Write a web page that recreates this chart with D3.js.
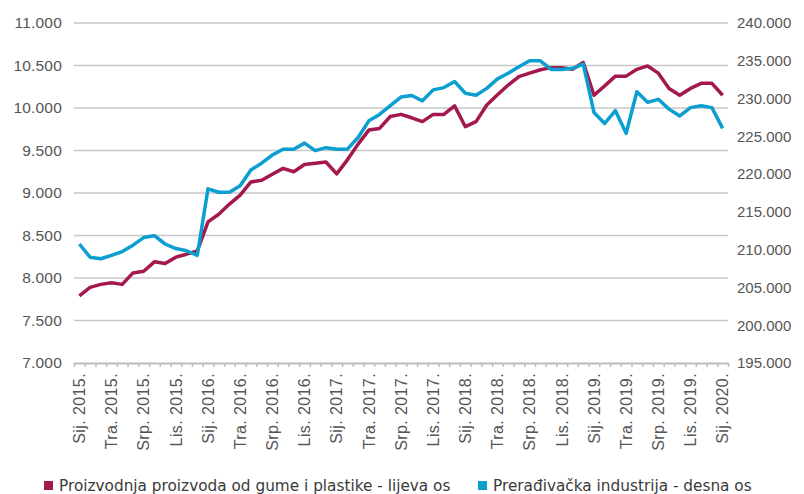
<!DOCTYPE html>
<html>
<head>
<meta charset="utf-8">
<script src="https://cdn.jsdelivr.net/npm/d3@7"></script>
<style>
  html, body { margin: 0; padding: 0; background: #fff; }
  svg { display: block; font-family: "DejaVu Sans", sans-serif; }
</style>
</head>
<body>
<svg id="chart" width="804" height="494"></svg>
<script>
// Monthly index, January 2015 – January 2020
const years = [2015, 2016, 2017, 2018, 2019, 2020];
const monthNames = ["Sij.", "Velj.", "Ožu.", "Tra.", "Svi.", "Lip.", "Srp.", "Kol.", "Ruj.", "Lis.", "Stu.", "Pro."];

// Production of rubber and plastic products (left axis)
const rubberPlastics = [
  7790, 7890, 7925, 7945, 7925, 8060, 8080, 8190, 8170, 8245, 8280, 8320,
  8660, 8750, 8870, 8975, 9130, 9150, 9220, 9290, 9250, 9335, 9350, 9365,
  9225, 9390, 9575, 9740, 9760, 9900, 9925, 9885, 9840, 9925, 9925, 10025,
  9780, 9840, 10035, 10155, 10270, 10370, 10410, 10450, 10475, 10475, 10455, 10535,
  10150, 10260, 10375, 10375, 10455, 10495, 10410, 10230, 10150, 10230, 10290, 10290,
  10150
];

// Manufacturing industry total (right axis)
const manufacturing = [
  210750, 209000, 208800, 209250, 209750, 210600, 211600, 211850, 210750, 210150, 209850, 209250,
  218050, 217600, 217600, 218450, 220550, 221450, 222530, 223300, 223300, 224100, 223100, 223500,
  223300, 223300, 224850, 227050, 227900, 229050, 230200, 230400, 229700, 231150, 231450, 232250,
  230700, 230450, 231350, 232600, 233350, 234200, 235000, 235000, 233850, 233850, 234000, 234550,
  228150, 226700, 228400, 225400, 230900, 229500, 229900, 228600, 227700, 228800, 229050, 228800,
  226050
];

const leftTicks = [7000, 7500, 8000, 8500, 9000, 9500, 10000, 10500, 11000];
const rightTicks = [195000, 200000, 205000, 210000, 215000, 220000, 225000, 230000, 235000, 240000];

const seriesNames = [
  "Proizvodnja proizvoda od gume i plastike - lijeva os",
  "Prerađivačka industrija - desna os"
];
const colors = ["#a3184f", "#0a9fcf"];

// Category labels "Sij. 2015." ... "Sij. 2020."
const categories = [];
years.forEach(y => monthNames.forEach(m => categories.push(`${m} ${y}.`)));
categories.length = rubberPlastics.length;

const W = 804, H = 494;
const margin = { top: 23, right: 76, bottom: 131, left: 74 };
const innerW = W - margin.left - margin.right;
const innerH = H - margin.top - margin.bottom;

const svg = d3.select("#chart");
const g = svg.append("g").attr("transform", `translate(${margin.left},${margin.top})`);

const x = d3.scaleBand().domain(categories).range([0, innerW]).padding(0);
const xEdge = d3.scaleLinear().domain([0, categories.length]).range([0, innerW]);
const yL = d3.scaleLinear().domain([7000, 11000]).range([innerH, 0]);
const yR = d3.scaleLinear().domain([195000, 240000]).range([innerH, 0]);

const fmt = d3.formatLocale({ decimal: ",", thousands: ".", grouping: [3], currency: ["", ""] }).format(",.0f");

// Horizontal gridlines
g.append("g")
  .selectAll("line")
  .data(leftTicks.filter(t => t !== 7000))
  .join("line")
  .attr("x1", 0).attr("x2", innerW)
  .attr("y1", d => yL(d)).attr("y2", d => yL(d))
  .attr("stroke", "#c8c8c8")
  .attr("stroke-width", 1.5);

// Left axis labels
const leftAxis = g.append("g")
  .call(d3.axisLeft(yL).tickValues(leftTicks).tickFormat(fmt).tickSize(0).tickPadding(12));
leftAxis.select(".domain").remove();
leftAxis.selectAll("text").attr("fill", "#555").style("font-size", "15.5px").style("letter-spacing", "0.2px");

// Right axis labels
const rightAxis = g.append("g")
  .attr("transform", `translate(${innerW},0)`)
  .call(d3.axisRight(yR).tickValues(rightTicks).tickFormat(fmt).tickSize(0).tickPadding(9));
rightAxis.select(".domain").remove();
rightAxis.selectAll("text").attr("fill", "#555").style("font-size", "15px");

// Bottom axis: month tick marks on category boundaries
const tickAxis = g.append("g")
  .attr("transform", `translate(0,${innerH})`)
  .call(d3.axisBottom(xEdge).tickValues(d3.range(categories.length + 1)).tickFormat("").tickSize(4).tickSizeOuter(0));
tickAxis.select(".domain").attr("stroke", "#bdbdbd").attr("stroke-width", 2);
tickAxis.selectAll(".tick line").attr("stroke", "#bdbdbd").attr("stroke-width", 1.5);

// Bottom axis: quarterly labels, rotated
const labelAxis = g.append("g")
  .attr("transform", `translate(0,${innerH})`)
  .call(d3.axisBottom(x).tickValues(categories.filter((d, i) => i % 3 === 0)).tickSize(0));
labelAxis.select(".domain").remove();
labelAxis.selectAll("text")
  .attr("transform", "rotate(-90)")
  .attr("x", -10)
  .attr("y", 0)
  .attr("dy", "0.36em")
  .attr("text-anchor", "end")
  .attr("fill", "#555")
  .style("font-size", "16px")
  .style("letter-spacing", "0.4px");

// Lines
const cx = (d, i) => x(categories[i]) + x.bandwidth() / 2;
const lineL = d3.line().x(cx).y(d => yL(d));
const lineR = d3.line().x(cx).y(d => yR(d));

g.append("path")
  .datum(rubberPlastics)
  .attr("d", lineL)
  .attr("fill", "none")
  .attr("stroke", colors[0])
  .attr("stroke-width", 3.5)
  .attr("stroke-linejoin", "round");

g.append("path")
  .datum(manufacturing)
  .attr("d", lineR)
  .attr("fill", "none")
  .attr("stroke", colors[1])
  .attr("stroke-width", 3.5)
  .attr("stroke-linejoin", "round");

// Legend
const legendX = [44, 478];
const legend = svg.append("g");
seriesNames.forEach((name, i) => {
  const item = legend.append("g").attr("transform", `translate(${legendX[i]},481)`);
  item.append("rect").attr("width", 9).attr("height", 9).attr("fill", colors[i]);
  item.append("text")
    .attr("x", 15).attr("y", 9.5)
    .attr("fill", "#3a3a3a")
    .style("font-size", "15.3px")
    .text(name);
});
</script>
</body>
</html>
